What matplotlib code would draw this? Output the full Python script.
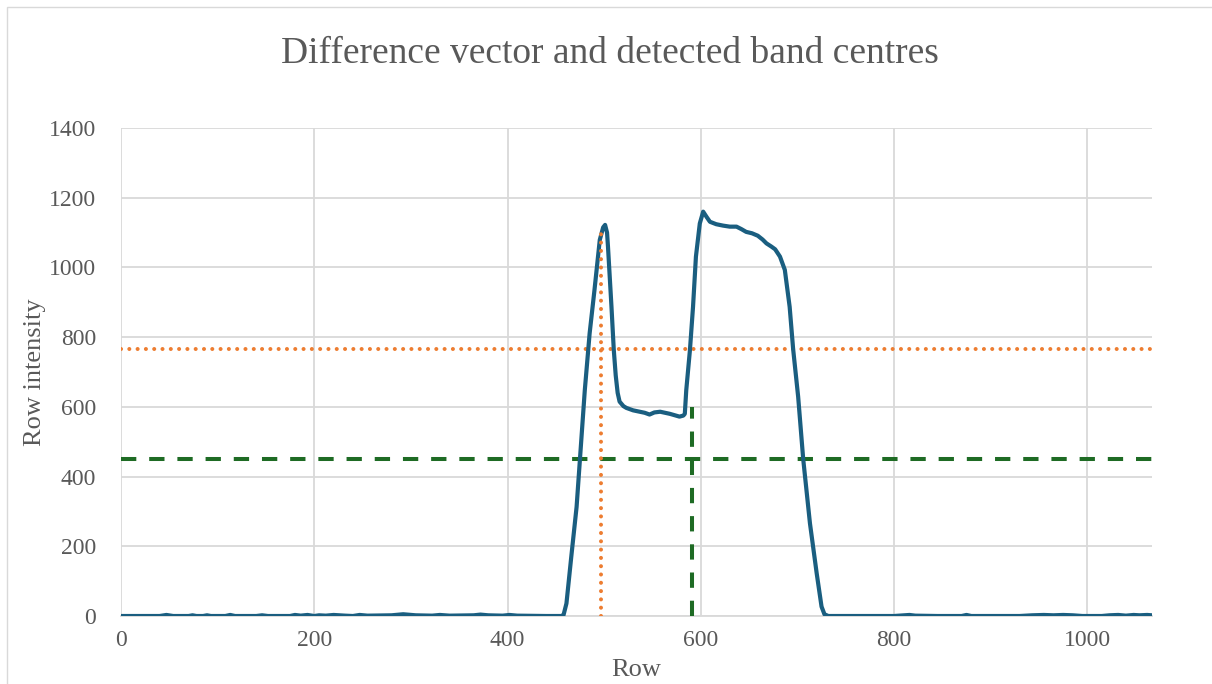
import matplotlib
matplotlib.use("Agg")
import matplotlib.pyplot as plt
from matplotlib.patches import Rectangle

# Difference vector sampled along the image rows
row = [0, 40, 47, 54, 70, 74, 78, 85, 89, 93, 108, 113, 118, 140, 146, 152,
       175, 180, 186, 193, 200, 205, 212, 220, 232, 240, 247, 255, 280, 292,
       305, 322, 330, 340, 365, 372, 380, 395, 402, 410, 440, 456,
       458, 461, 466, 471.5, 475, 480, 485, 490, 495.5, 499, 501, 503, 504,
       507.6, 510, 512, 514, 516, 520, 523, 530, 537, 542, 547, 552, 558, 563, 568,
       573, 578, 582, 583.5, 585, 588.8, 592, 595, 599, 602.5, 606, 609.5,
       616, 623, 630, 637, 642, 647, 653, 659, 664, 668, 673, 677, 682, 687,
       692, 695.6, 700.8, 706, 713, 720, 725, 728, 732,
       760, 800, 810, 816, 822, 845, 870, 875, 880, 930, 943, 955, 965, 975,
       985, 995, 1015, 1023, 1032, 1040, 1048, 1054, 1062, 1067]
intensity = [0, 0, 3, 0, 0, 2, 0, 0, 2, 0, 0, 3, 0, 0, 2, 0,
             0, 3, 1, 3, 0, 2, 1, 3, 1, 0, 3, 1, 2, 5,
             2, 1, 3, 1, 2, 4, 2, 1, 3, 1, 0, 0,
             3, 36, 170, 313, 451, 648, 811, 935, 1079, 1115, 1122, 1100, 1059,
             887, 763, 690, 640, 615, 602, 597, 590, 586, 583, 578, 584, 586, 583, 580,
             576, 572, 575, 580, 648, 763, 887, 1031, 1126, 1160, 1145, 1131,
             1124, 1120, 1117, 1117, 1110, 1102, 1098, 1091, 1080, 1069, 1060, 1052, 1031, 993,
             887, 766, 629, 451, 266, 122, 27, 5, 0,
             0, 0, 2, 3, 1, 0, 0, 3, 0, 0, 2, 3, 2, 3,
             2, 0, 0, 2, 3, 1, 3, 2, 3, 2]

# Detection thresholds and detected band centres
peak_threshold = 766
band_threshold = 450
peak_centre = 497
peak_centre_value = 1100
band_centre = 591
band_centre_value = 600

x_ticks = [0, 200, 400, 600, 800, 1000]
y_ticks = [0, 200, 400, 600, 800, 1000, 1200, 1400]
x_max = 1067

text_grey = "#595959"
grid_grey = "#D9D9D9"
line_blue = "#1A5E80"
orange = "#ED7D31"
green = "#1E6B24"

plt.rcParams["font.family"] = ["Liberation Serif", "DejaVu Serif"]

W, H = 1212, 684
fig = plt.figure(figsize=(W / 100, H / 100), dpi=100)
ax = fig.add_axes([121 / W, 1 - 616 / H, (1152 - 121) / W, (616 - 128) / H])

# Chart frame
fig.patches.append(Rectangle((7 / W, -0.1), 1.2, 1 - 7 / H + 0.1,
                             transform=fig.transFigure, fill=False,
                             edgecolor=grid_grey, linewidth=1.0))

ax.plot(row, intensity, color=line_blue, linewidth=3.0, zorder=4,
        solid_joinstyle="round", solid_capstyle="round")

dotted = (0, (0.01, 2.05))
dashed = (0, (3.8, 3.2))
ax.hlines(peak_threshold, 0, x_max, colors=orange, linestyles=dotted,
          linewidth=2.9, zorder=3, capstyle="round")
ax.vlines(peak_centre, 0, peak_centre_value, colors=orange,
          linestyles=dotted, linewidth=2.9, zorder=5, capstyle="round")
ax.hlines(band_threshold, 0, x_max, colors=green, linestyles=dashed,
          linewidth=2.9, zorder=3)
ax.vlines(band_centre, 0, band_centre_value, colors=green,
          linestyles=dashed, linewidth=2.9, zorder=5)

ax.set_xlim(0, x_max)
ax.set_ylim(0, 1400)
ax.set_xticks(x_ticks)
ax.set_yticks(y_ticks)
ax.grid(True, color=grid_grey, linewidth=1.3, zorder=0)
ax.set_axisbelow(True)
for side in ["top", "right", "left"]:
    ax.spines[side].set_visible(False)
ax.spines["bottom"].set_color(grid_grey)
ax.spines["bottom"].set_linewidth(1.3)
ax.tick_params(length=0, labelsize=17, labelcolor=text_grey)
ax.tick_params(axis="y", pad=18)
ax.tick_params(axis="x", pad=10)

ax.set_xlabel("Row", fontsize=19, color=text_grey, labelpad=6)
ax.set_ylabel("Row intensity", fontsize=19, color=text_grey, labelpad=2)

fig.text(0.503, 1 - 54 / H, "Difference vector and detected band centres",
         ha="center", va="center", fontsize=27, color=text_grey)

fig.savefig("out.png", dpi=100)
